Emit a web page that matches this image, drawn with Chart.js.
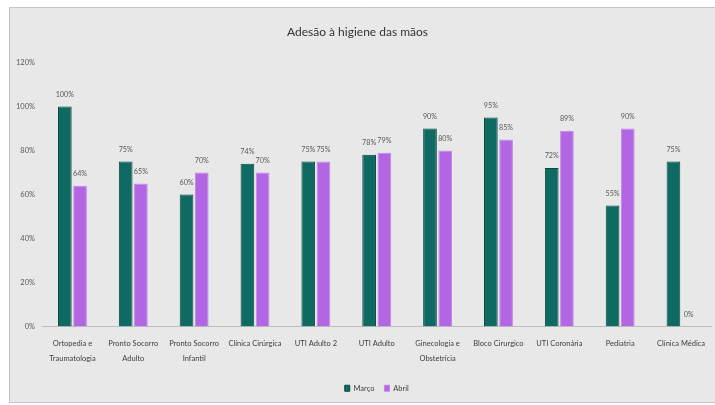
<!DOCTYPE html>
<html>
<head>
<meta charset="utf-8">
<script src="https://cdn.jsdelivr.net/npm/chart.js@4/dist/chart.umd.min.js"></script>
<style>
  body { margin: 0; background: #fff; }
  #wrap { width: 715px; height: 405px; }
</style>
</head>
<body>
<div id="wrap"><canvas id="chart" width="715" height="405"></canvas></div>
<script>
var setores = [
    ["Ortopedia e", "Traumatologia"],
    ["Pronto Socorro", "Adulto"],
    ["Pronto Socorro", "Infantil"],
    "Clínica Cirúrgica",
    "UTI Adulto 2",
    "UTI Adulto",
    ["Ginecologia e", "Obstetrícia"],
    "Bloco Cirurgico",
    "UTI Coronária",
    "Pediatria",
    "Clínica Médica"
];
var marco = [100, 75, 60, 74, 75, 78, 90, 95, 72, 55, 75];
var abril = [64, 65, 70, 70, 75, 79, 80, 85, 89, 90, 0];
var yTicks = [0, 20, 40, 60, 80, 100, 120];

var fonte = "Lato, 'Open Sans', sans-serif";

// painel cinza atras do grafico
var fundo = {
    id: 'fundo',
    beforeDraw: function(chart) {
        var c = chart.ctx;
        c.save();
        c.fillStyle = '#e8e8e8';
        c.fillRect(9, 7, 706, 396);
        c.strokeStyle = '#c4c4c4';
        c.lineWidth = 1;
        c.beginPath();
        c.moveTo(9.5, 403);
        c.lineTo(9.5, 7.5);
        c.lineTo(715, 7.5);
        c.moveTo(9.5, 402.5);
        c.lineTo(715, 402.5);
        c.stroke();
        c.restore();
    }
};

// rotulos de valor em cima das barras
var rotulos = {
    id: 'rotulos',
    afterDatasetsDraw: function(chart) {
        var c = chart.ctx;
        c.save();
        c.font = "7.2px " + fonte;
        c.fillStyle = '#595959';
        c.textAlign = 'center';
        c.textBaseline = 'middle';
        chart.data.datasets.forEach(function(ds, i) {
            chart.getDatasetMeta(i).data.forEach(function(bar, j) {
                c.fillText(ds.data[j] + '%', bar.x, bar.y - 12);
            });
        });
        c.restore();
    }
};

new Chart(document.getElementById('chart'), {
    type: 'bar',
    data: {
        labels: setores,
        datasets: [{
            label: 'Março',
            data: marco,
            backgroundColor: '#0e6a62',
            borderColor: '#0a4a44',
            borderWidth: 1
        }, {
            label: 'Abril',
            data: abril,
            backgroundColor: '#b366e3',
            borderColor: '#c287ea',
            borderWidth: 1
        }]
    },
    options: {
        responsive: false,
        animation: false,
        categoryPercentage: 0.5,
        barPercentage: 0.9,
        layout: { padding: { top: 14, left: 0, right: 0, bottom: 3 } },
        plugins: {
            title: {
                display: true,
                text: 'Adesão à higiene das mãos',
                color: '#333333',
                font: { family: fonte, size: 12, weight: 'normal' },
                padding: { top: 11, bottom: 23 }
            },
            legend: {
                position: 'bottom',
                fullSize: false,
                labels: {
                    color: '#404040',
                    font: { family: fonte, size: 7.5 },
                    boxWidth: 5,
                    boxHeight: 6,
                    padding: 10
                }
            },
            tooltip: { enabled: false }
        },
        scales: {
            x: {
                grid: { display: false, drawTicks: false },
                border: { display: true, color: '#bdbdbd' },
                ticks: {
                    color: '#404040',
                    font: { family: fonte, size: 7.5, lineHeight: 2 },
                    padding: 10,
                    autoSkip: false,
                    maxRotation: 0
                },
                afterFit: function(scale) { scale.height = 48; }
            },
            y: {
                min: 0,
                max: 120,
                grid: { display: false, drawTicks: false },
                border: { display: false },
                afterBuildTicks: function(scale) {
                    scale.ticks = yTicks.map(function(v) { return { value: v }; });
                },
                ticks: {
                    color: '#595959',
                    font: { family: fonte, size: 7.5 },
                    padding: 7,
                    callback: function(v) { return v + '%'; }
                },
                afterFit: function(scale) { scale.width = 42; }
            }
        }
    },
    plugins: [fundo, rotulos]
});
</script>
</body>
</html>
